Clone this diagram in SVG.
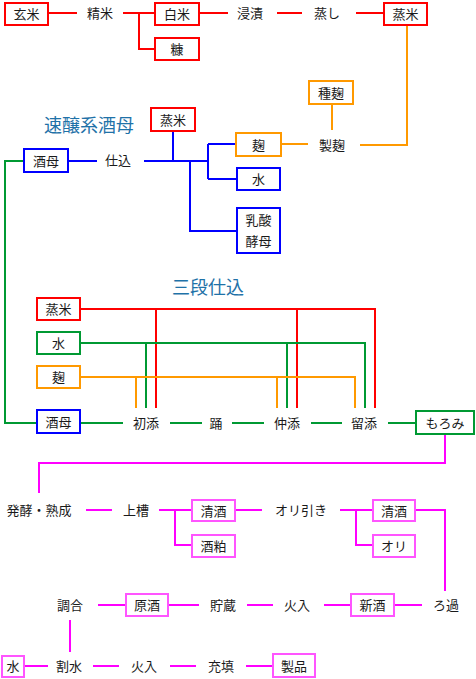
<svg xmlns="http://www.w3.org/2000/svg" width="476" height="679" viewBox="0 0 476 679">
<style>
text{font-family:"Noto Sans CJK JP","Noto Sans",sans-serif;font-size:13px;fill:#1a1a1a;text-anchor:middle}
.title{font-size:18px;fill:#1f72a8}
rect{fill:#fff;stroke-width:2}
.r{stroke:#ff0000}.o{stroke:#ff9900}.b{stroke:#0000ff}.g{stroke:#009933}.m{stroke:#ff55ff}
#connectors path{fill:none;stroke-width:2}
</style>
<rect x="0" y="0" width="476" height="679" fill="#fff" style="stroke:none"/>
<g id="connectors">
<path class="r" d="M49 13H77M123 13H154M139 13V49H154M200 13H228M277 13H302M356 13H383"/>
<path class="o" d="M407 26V145H360M332 105V130M282 144H308"/>
<path class="b" d="M69 161H97M144 161H208M173 132V161M208 144V179M208 144H236M208 179H237M190 161V231H237"/>
<path class="g" d="M23 161H5V423H36M81 423H123M170 423H202M232 423H264M311 423H342M388 423H415"/>
<path class="r" d="M81 309H375V408M156 309V408M297 309V408"/>
<path class="g" d="M81 343H365V408M146 343V408M287 343V408"/>
<path class="o" d="M81 377H355V408M136 377V408M277 377V408"/>
<path class="m" style="stroke:#ff00ff" d="M445 435V463H39V493M86 510H112M159 510H191M175 510V545H191M236 510H262M340 510H372M356 510V545H372M416 510H445V591M395 605H422M324 605H350M247 605H273M169 605H199M98 605H125M70 620V652M25 666H48M93 666H119M170 666H196M246 666H272"/>
</g>
<g id="n-genmai"><rect class="r" x="5" y="3" width="43" height="22"/><text x="26.5" y="19">玄米</text></g>
<g id="t-seimai"><text x="100" y="18">精米</text></g>
<g id="n-hakumai"><rect class="r" x="155" y="3" width="44" height="22"/><text x="177" y="19">白米</text></g>
<g id="n-nuka"><rect class="r" x="155" y="38" width="44" height="22"/><text x="177" y="54">糠</text></g>
<g id="t-shinseki"><text x="250" y="18">浸漬</text></g>
<g id="t-mushi"><text x="327" y="18">蒸し</text></g>
<g id="n-mushimai1"><rect class="r" x="384" y="3" width="43" height="22"/><text x="405.5" y="19">蒸米</text></g>
<g id="n-tanekoji"><rect class="o" x="309" y="81" width="44" height="23"/><text x="331" y="97.5">種麹</text></g>
<g id="t-seikiku"><text x="332" y="150">製麹</text></g>
<g id="t-sokujo"><text class="title" x="89" y="132">速醸系酒母</text></g>
<g id="n-mushimai2"><rect class="r" x="151" y="108" width="44" height="23"/><text x="173" y="125">蒸米</text></g>
<g id="n-koji1"><rect class="o" x="236" y="133" width="45" height="23"/><text x="258.5" y="149.5">麹</text></g>
<g id="n-shubo1"><rect class="b" x="24" y="149" width="44" height="23"/><text x="46" y="166">酒母</text></g>
<g id="t-shikomi"><text x="118" y="165">仕込</text></g>
<g id="n-mizu1"><rect class="b" x="237" y="168" width="43" height="22"/><text x="258.5" y="184">水</text></g>
<g id="n-nyusan"><rect class="b" x="237" y="208" width="43" height="45"/><text x="258.5" y="225">乳酸</text><text x="258.5" y="246">酵母</text></g>
<g id="t-sandan"><text class="title" x="208" y="294">三段仕込</text></g>
<g id="n-mushimai3"><rect class="r" x="37" y="298" width="43" height="22"/><text x="58.5" y="314">蒸米</text></g>
<g id="n-mizu2"><rect class="g" x="37" y="332" width="43" height="22"/><text x="58.5" y="348">水</text></g>
<g id="n-koji2"><rect class="o" x="37" y="366" width="43" height="22"/><text x="58.5" y="382">麹</text></g>
<g id="n-shubo2"><rect class="b" x="37" y="410" width="43" height="23"/><text x="58.5" y="427">酒母</text></g>
<g id="t-hatsuzoe"><text x="146" y="428">初添</text></g>
<g id="t-odori"><text x="216" y="428">踊</text></g>
<g id="t-nakazoe"><text x="287" y="428">仲添</text></g>
<g id="t-tomezoe"><text x="364" y="428">留添</text></g>
<g id="n-moromi"><rect class="g" x="416" y="411" width="58" height="23"/><text x="445" y="428">もろみ</text></g>
<g id="t-hakko"><text x="39" y="515">発酵・熟成</text></g>
<g id="t-joso"><text x="136" y="515">上槽</text></g>
<g id="n-seishu1"><rect class="m" x="192" y="500" width="43" height="21"/><text x="213.5" y="515.5">清酒</text></g>
<g id="n-sakekasu"><rect class="m" x="192" y="535" width="43" height="22"/><text x="213.5" y="551">酒粕</text></g>
<g id="t-oribiki"><text x="301" y="515">オリ引き</text></g>
<g id="n-seishu2"><rect class="m" x="373" y="500" width="42" height="21"/><text x="394" y="515.5">清酒</text></g>
<g id="n-ori"><rect class="m" x="373" y="535" width="42" height="22"/><text x="394" y="551">オリ</text></g>
<g id="t-roka"><text x="446" y="610">ろ過</text></g>
<g id="n-shinshu"><rect class="m" x="351" y="594" width="43" height="22"/><text x="372.5" y="610">新酒</text></g>
<g id="t-hiire1"><text x="297" y="610">火入</text></g>
<g id="t-chozo"><text x="223" y="610">貯蔵</text></g>
<g id="n-genshu"><rect class="m" x="126" y="594" width="42" height="22"/><text x="147" y="610">原酒</text></g>
<g id="t-chogo"><text x="70" y="610">調合</text></g>
<g id="n-mizu3"><rect class="m" x="2" y="656" width="22" height="21"/><text x="13" y="671">水</text></g>
<g id="t-warimizu"><text x="69" y="671">割水</text></g>
<g id="t-hiire2"><text x="144" y="671">火入</text></g>
<g id="t-juten"><text x="221" y="671">充填</text></g>
<g id="n-seihin"><rect class="m" x="273" y="654" width="42" height="23"/><text x="294" y="671">製品</text></g>
</svg>
